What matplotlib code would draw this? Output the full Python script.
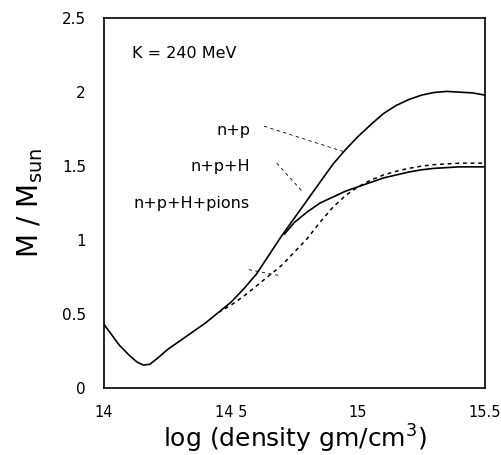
import matplotlib
matplotlib.use('Agg')
import matplotlib.pyplot as plt

plt.rcParams['font.family'] = ['DejaVu Sans']

# n+p curve
x_np = [14.0, 14.03, 14.06, 14.1, 14.13, 14.155, 14.18, 14.21, 14.25, 14.3, 14.35,
        14.4, 14.45, 14.5, 14.55, 14.6, 14.65, 14.7, 14.75, 14.8, 14.85, 14.9,
        14.95, 15.0, 15.05, 15.1, 15.15, 15.2, 15.25, 15.3, 15.35, 15.4, 15.45, 15.5]
y_np = [0.43, 0.36, 0.29, 0.22, 0.175, 0.155, 0.16, 0.2, 0.26, 0.32, 0.38,
        0.44, 0.51, 0.58, 0.67, 0.77, 0.9, 1.03, 1.15, 1.27, 1.39, 1.51,
        1.61, 1.70, 1.78, 1.855, 1.91, 1.95, 1.98, 1.998, 2.005, 2.0, 1.995, 1.98]

# n+p+H branch
x_nph = [14.71, 14.75, 14.8, 14.85, 14.9, 14.95, 15.0, 15.05, 15.1, 15.15,
         15.2, 15.25, 15.3, 15.4, 15.5]
y_nph = [1.04, 1.12, 1.19, 1.25, 1.29, 1.33, 1.36, 1.39, 1.42, 1.44,
         1.46, 1.475, 1.485, 1.495, 1.495]

# n+p+H+pions branch (dotted)
x_pi = [14.45, 14.5, 14.55, 14.6, 14.65, 14.7, 14.75, 14.8, 14.85, 14.9, 14.95,
        15.0, 15.05, 15.1, 15.15, 15.2, 15.25, 15.3, 15.4, 15.5]
y_pi = [0.51, 0.56, 0.62, 0.69, 0.76, 0.83, 0.92, 1.01, 1.12, 1.22, 1.30,
        1.36, 1.405, 1.44, 1.465, 1.485, 1.50, 1.51, 1.52, 1.52]

xticks = [14, 14.5, 15, 15.5]
xticklabels = ['14', '14 5', '15', '15.5']
yticks = [0, 0.5, 1, 1.5, 2, 2.5]
yticklabels = ['0', '0.5', '1', '1.5', '2', '2.5']

fig = plt.figure(figsize=(5.01, 4.55), dpi=100)
ax = fig.add_axes([0.2076, 0.1473, 0.7605, 0.8127])

ax.plot(x_np, y_np, color='black', lw=1.2)
ax.plot(x_nph, y_nph, color='black', lw=1.2)
ax.plot(x_pi, y_pi, color='black', lw=1.1, dashes=(2.5, 2.5))

ax.set_xlim(14, 15.5)
ax.set_ylim(0, 2.5)
ax.set_xticks(xticks)
ax.set_xticklabels(xticklabels)
ax.set_yticks(yticks)
ax.set_yticklabels(yticklabels)
ax.tick_params(length=0)
ax.tick_params(axis='x', pad=12, labelsize=10.5)
ax.tick_params(axis='y', pad=13, labelsize=11)
for s in ax.spines.values():
    s.set_linewidth(1.2)

ax.set_xlabel('log (density gm/cm$^3$)', fontsize=18, labelpad=2)
ax.set_ylabel('M / M$_{\\rm sun}$', fontsize=20, labelpad=12)

ax.text(14.11, 2.26, 'K = 240 MeV', fontsize=11.5, va='center')
lab_kw = dict(fontsize=11.5, ha='right', va='center')
ax.text(14.575, 1.74, 'n+p', **lab_kw)
ax.text(14.575, 1.50, 'n+p+H', **lab_kw)
ax.text(14.575, 1.25, 'n+p+H+pions', **lab_kw)

# faint pointer lines
ax.plot([14.63, 14.94], [1.77, 1.60], color='black', lw=0.6, dashes=(4, 4))
ax.plot([14.68, 14.78], [1.52, 1.33], color='black', lw=0.6, dashes=(4, 4))
ax.plot([14.57, 14.69], [0.80, 0.76], color='black', lw=0.6, dashes=(4, 4))

fig.savefig('out.png', dpi=100)
